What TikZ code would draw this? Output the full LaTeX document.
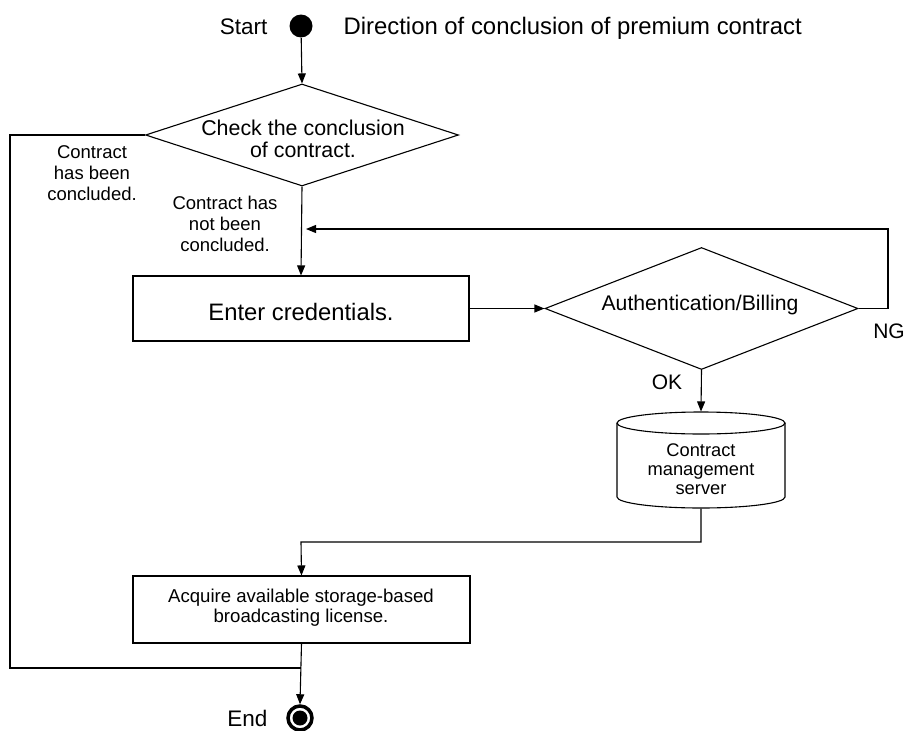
\documentclass[tikz,border=0pt]{standalone}
\usepackage{fontspec}
\setmainfont{Liberation Sans}
\usetikzlibrary{shapes.geometric,arrows.meta}
\begin{document}
\begin{tikzpicture}[x=1pt,y=-1pt,
  line width=1.1pt,
  arr/.style={-{Triangle[length=10pt,width=8pt]}},
  decision/.style={draw,diamond,inner sep=0pt},
  procbox/.style={draw,rectangle,inner sep=0pt},
  bigtxt/.style={font=\fontsize{22.5}{26}\selectfont,inner sep=0pt},
  midtxt/.style={font=\fontsize{21.4}{22}\selectfont,align=center,inner sep=0pt},
  smalltxt/.style={font=\fontsize{18.5}{21}\selectfont,align=center,inner sep=0pt},
  acqtxt/.style={font=\fontsize{18.6}{20}\selectfont,align=center,inner sep=0pt},
  srvtxt/.style={font=\fontsize{18.3}{19}\selectfont,align=center,inner sep=0pt},
]
\useasboundingbox (0,0) rectangle (908,731);

% start and end markers
\node[circle,fill,inner sep=0pt,minimum size=23pt] (start) at (301,26) {};
\node[bigtxt,anchor=base east] (starttxt) at (268,34) {Start};
\node[font=\fontsize{23.9}{26}\selectfont,inner sep=0pt,anchor=base west] (title) at (343,34) {Direction of conclusion of premium contract};

\node[circle,draw,line width=3.5pt,inner sep=0pt,minimum size=24pt] (endc) at (300,718) {};
\node[circle,fill,inner sep=0pt,minimum size=15pt] (endin) at (300,718) {};
\node[bigtxt,anchor=base east] (endtxt) at (268,726) {End};

% first decision
\node[decision,minimum width=313pt,minimum height=102pt] (d1) at (302,135) {};
\node[midtxt] (d1txt) at (303,139) {Check the conclusion\\of contract.};

% credential entry
\node[procbox,minimum width=336pt,minimum height=65pt] (enter) at (301,308.5) {};
\node[font=\fontsize{23.8}{26}\selectfont,inner sep=0pt] (entertxt) at (301,312) {Enter credentials.};

% second decision
\node[decision,minimum width=313pt,minimum height=122pt] (d2) at (701.5,308.5) {};
\node[font=\fontsize{21.2}{22}\selectfont,inner sep=0pt] (d2txt) at (700,305) {Authentication/Billing};

% contract management server (cylinder)
\node[minimum width=168pt,minimum height=96pt,inner sep=0pt] (srv) at (701,460) {};
\draw (701,423) ellipse [x radius=84pt, y radius=11pt];
\draw (617,423) -- (617,497) arc[start angle=180,end angle=360,x radius=84pt,y radius=11pt] -- (785,423);
\node[srvtxt] (srvtxt) at (701,469) {Contract\\management\\server};

% licence acquisition
\node[procbox,minimum width=337pt,minimum height=67pt] (acq) at (301.5,609.5) {};
\node[acqtxt] (acqtxt) at (301,608) {Acquire available storage-based\\broadcasting license.};

% helper points for the routed connectors
\coordinate (lt) at (10,135);
\coordinate (lb) at (10,668);
\coordinate (lj) at (301,668);
\coordinate (ngr) at (888,308.5);
\coordinate (ngt) at (888,229);
\coordinate (fb) at (306,229);
\coordinate (sb) at (701,542);
\coordinate (sl) at (301,542);

% connectors
\draw[arr] (start) -- (d1.north);
\draw (d1.west) -- (lt) -- (lb) -- (lj);
\draw[arr] (d1.south) -- (enter.north);
\draw[arr] (enter.east) -- (d2.west);
\draw[arr] (d2.east) -- (ngr) -- (ngt) -- (fb);
\draw[arr] (d2.south) -- (srv.north);
\draw[arr] (srv.south) -- (sb) -- (sl) -- (acq.north);
\draw[arr] (acq.south) -- (endc.north);

% branch labels
\node[smalltxt] (lbl1) at (92,173) {Contract\\has been\\concluded.};
\node[smalltxt] (lbl2) at (225,224) {Contract has\\not been\\concluded.};
\node[font=\fontsize{21}{22}\selectfont,inner sep=0pt] (ng) at (889,331) {NG};
\node[font=\fontsize{21}{22}\selectfont,inner sep=0pt] (ok) at (667,382) {OK};
\end{tikzpicture}
\end{document}
